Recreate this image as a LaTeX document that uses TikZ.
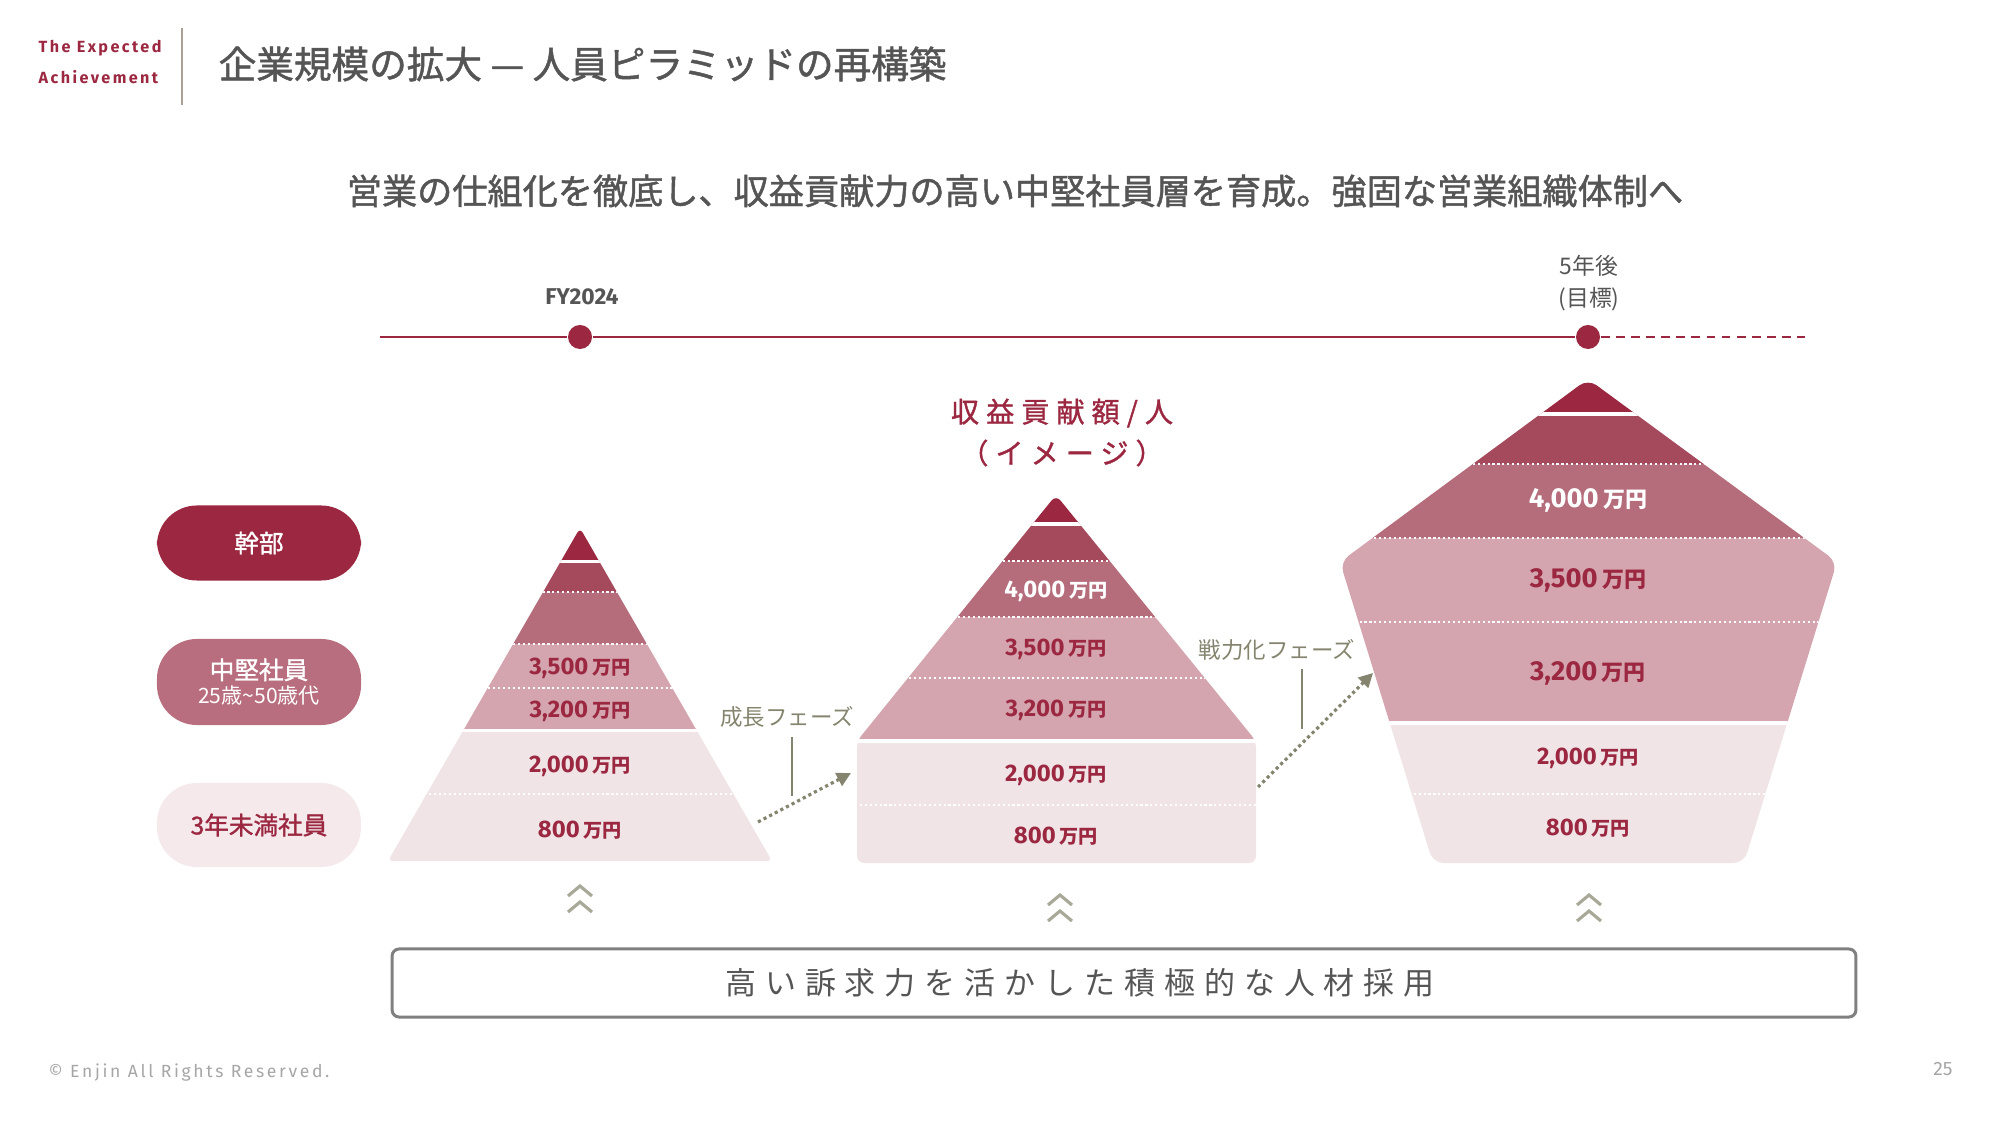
\documentclass[tikz,border=0pt]{standalone}
\usepackage{fontspec}
\setmainfont{Noto Sans CJK JP}
\newfontfamily\jpmed[FakeBold=1.3]{Noto Sans CJK JP}
\newfontfamily\numfont{Fira Sans}
\newfontfamily\tagfont[LetterSpace=15]{Fira Sans}
\newfontfamily\jpspaced[LetterSpace=25,FakeBold=1.2]{Noto Sans CJK JP}
\newfontfamily\jpwide[LetterSpace=29]{Noto Sans CJK JP}
\usetikzlibrary{arrows.meta,positioning}
\definecolor{darkred}{RGB}{155,39,64}
\definecolor{layertwo}{RGB}{165,74,92}
\definecolor{layerthree}{RGB}{181,108,123}
\definecolor{layerfour}{RGB}{212,165,175}
\definecolor{layerfive}{RGB}{240,228,231}
\definecolor{pillmid}{RGB}{184,110,126}
\definecolor{pilllow}{RGB}{245,233,236}
\definecolor{olive}{RGB}{133,132,110}
\definecolor{chevgray}{RGB}{169,169,154}
\definecolor{textgray}{RGB}{85,85,85}
\definecolor{boxgray}{RGB}{128,128,128}
\definecolor{sepgray}{RGB}{170,160,150}
\newcommand{\yenunit}{\,\scalebox{0.8}{\rmfamily\bfseries 万円}}

\begin{document}
\begin{tikzpicture}[x=0.01cm,y=-0.01cm,
  pill/.style={rounded corners=0.4cm,minimum width=2.04cm,align=center,
               inner sep=0pt,font=\jpmed\fontsize{7}{9}\selectfont},
  val/.style={font=\numfont\bfseries\fontsize{6.8}{8}\selectfont,text=darkred,inner sep=0pt},
  bigval/.style={val,font=\numfont\bfseries\fontsize{7.8}{9}\selectfont},
  gap/.style={white,line width=1.1pt},
  sep/.style={white,line width=0.6pt,dash pattern=on 0.6pt off 0.8pt},
  dot/.style={circle,fill=darkred,minimum size=0.24cm,inner sep=0pt},
  tl/.style={darkred,line width=0.7pt},
  phase/.style={olive,line width=0.9pt,dash pattern=on 0.9pt off 0.9pt,
                -{Triangle[length=4pt,width=4pt]}},
  phaselabel/.style={text=olive,font=\fontsize{6.4}{8}\selectfont,inner sep=0pt},
  chev/.style={chevgray,line width=0.9pt}]
\useasboundingbox (0,0) rectangle (2000,1125);

% header
\node[anchor=west,text=darkred,font=\tagfont\bfseries\fontsize{4.6}{6}\selectfont,inner sep=0pt]
  (tagtop) at (38,48) {The Expected};
\node[anchor=west,text=darkred,font=\tagfont\bfseries\fontsize{4.6}{6}\selectfont,inner sep=0pt]
  (tagbot) at (38,77) {Achievement};
\draw[sepgray,line width=0.4pt] (182,28) -- (182,105);
\node[anchor=west,text=textgray,font=\jpmed\fontsize{10.7}{12}\selectfont,inner sep=0pt]
  (title) at (218,64) {企業規模の拡大 — 人員ピラミッドの再構築};
\node[text=textgray,font=\jpmed\fontsize{10}{12}\selectfont,inner sep=0pt]
  (lead) at (1015,191) {営業の仕組化を徹底し、収益貢献力の高い中堅社員層を育成。強固な営業組織体制へ};

% timeline
\coordinate (tlstart) at (380,337);
\coordinate (tlend) at (1805,337);
\node[dot] (now) at (580,337) {};
\node[dot] (goal) at (1588,337) {};
\draw[tl] (tlstart) -- (now) -- (goal);
\draw[tl,dash pattern=on 2.5pt off 1.8pt] (goal) -- (tlend);
\node[text=textgray,font=\numfont\bfseries\fontsize{6.5}{8}\selectfont,inner sep=0pt]
  (nowlabel) at (582,297) {FY2024};
\node[text=textgray,font=\fontsize{6.5}{9}\selectfont,align=center,inner sep=0pt]
  (goallabel) at (1589,283) {5年後\\(目標)};

% tiers
\node[pill,fill=darkred,text=white,minimum height=0.75cm] (exec) at (259,543) {幹部};
\node[pill,fill=pillmid,text=white,minimum height=0.86cm] (mid) at (259,682)
  {中堅社員\\[-2pt]{\rmfamily\fontsize{6}{7}\selectfont 25歳\textasciitilde 50歳代}};
\node[pill,fill=pilllow,text=darkred,minimum height=0.84cm] (junior) at (259,825) {3年未満社員};

% pyramid FY2024
\begin{scope}
  \clip[rounded corners=1.5] (580,528) -- (772,861) -- (388,861) -- cycle;
  \fill[darkred] (380,520) rectangle (780,561);
  \fill[layertwo] (380,561) rectangle (780,592);
  \fill[layerthree] (380,592) rectangle (780,644);
  \fill[layerfour] (380,644) rectangle (780,730);
  \fill[layerfive] (380,730) rectangle (780,870);
  \draw[gap] (380,561.5) -- (780,561.5);
  \draw[gap] (380,730.5) -- (780,730.5);
  \foreach \yy in {592,644,688,794} \draw[sep] (380,\yy) -- (780,\yy);
\end{scope}
\node[val] (fa) at (580,668) {3,500\yenunit};
\node[val] (fb) at (580,711) {3,200\yenunit};
\node[val] (fc) at (580,766) {2,000\yenunit};
\node[val] (fd) at (580,830) {800\yenunit};

% pyramid image
\node[text=darkred,font=\jpspaced\fontsize{8}{10}\selectfont,inner sep=0pt]
  (imgtitle) at (1062,413) {収益貢献額/人};
\node[text=darkred,font=\jpspaced\fontsize{8}{10}\selectfont,inner sep=0pt]
  (imgnote) at (1062,453) {（イメージ）};
\begin{scope}
  \clip[rounded corners=2] (1056,495) -- (1256,741) -- (1256,863) -- (857,863) -- (857,741) -- cycle;
  \fill[darkred] (850,490) rectangle (1260,523);
  \fill[layertwo] (850,523) rectangle (1260,561);
  \fill[layerthree] (850,561) rectangle (1260,617);
  \fill[layerfour] (850,617) rectangle (1260,740);
  \fill[layerfive] (850,740) rectangle (1260,870);
  \draw[gap] (850,524) -- (1260,524);
  \draw[gap] (850,741) -- (1260,741);
  \foreach \yy in {561,617,678,805} \draw[sep] (850,\yy) -- (1260,\yy);
\end{scope}
\node[val,text=white] (ma) at (1056,591) {4,000\yenunit};
\node[val] (mb) at (1056,649) {3,500\yenunit};
\node[val] (mc) at (1056,710) {3,200\yenunit};
\node[val] (md) at (1056,775) {2,000\yenunit};
\node[val] (me) at (1056,836) {800\yenunit};

% pentagon 5 years
\begin{scope}
  \clip[rounded corners=3] (1588,379) -- (1837,562) -- (1744,863) -- (1433,863) -- (1340,562) -- cycle;
  \fill[darkred] (1330,370) rectangle (1850,413);
  \fill[layertwo] (1330,413) rectangle (1850,464);
  \fill[layerthree] (1330,464) rectangle (1850,538);
  \fill[layerfour] (1330,538) rectangle (1850,722);
  \fill[layerfive] (1330,722) rectangle (1850,870);
  \draw[gap] (1330,414) -- (1850,414);
  \draw[gap] (1330,723) -- (1850,723);
  \foreach \yy in {464,538,622,794} \draw[sep] (1330,\yy) -- (1850,\yy);
\end{scope}
\node[bigval,text=white] (ga) at (1588,500) {4,000\yenunit};
\node[bigval] (gb) at (1588,580) {3,500\yenunit};
\node[bigval] (gc) at (1588,673) {3,200\yenunit};
\node[val] (gd) at (1588,758) {2,000\yenunit};
\node[val] (ge) at (1588,828) {800\yenunit};

% phases
\node[phaselabel] (grow) at (787,717) {成長フェーズ};
\coordinate (growtop) at (792,737);
\coordinate (growbot) at (792,796);
\draw[olive,line width=0.3pt] (growtop) -- (growbot);
\coordinate (growfrom) at (758,822);
\coordinate (growto) at (851,773);
\draw[phase] (growfrom) -- (growto);

\node[phaselabel] (force) at (1277,650) {戦力化フェーズ};
\coordinate (forcetop) at (1302,669);
\coordinate (forcebot) at (1302,729);
\draw[olive,line width=0.3pt] (forcetop) -- (forcebot);
\coordinate (forcefrom) at (1258,787);
\coordinate (forceto) at (1373,673);
\draw[phase] (forcefrom) -- (forceto);

% chevrons
\foreach \cx/\cy in {580/886,1060/895,1589/895} {
  \draw[chev] (\cx-12,\cy+10) -- (\cx,\cy) -- (\cx+12,\cy+10);
  \draw[chev] (\cx-12,\cy+26) -- (\cx,\cy+16) -- (\cx+12,\cy+26);
}

% hiring
\node[draw=boxgray,line width=0.85pt,rounded corners=2pt,minimum width=14.63cm,
      minimum height=0.68cm,inner sep=0pt] (hirebox) at (1124,983) {};
\node[text=textgray,font=\jpwide\fontsize{8.8}{10}\selectfont,inner sep=0pt]
  (hire) at (1080,983) {高い訴求力を活かした積極的な人材採用};

% footer
\node[anchor=west,text=gray!70,font=\tagfont\fontsize{5}{6}\selectfont,inner sep=0pt]
  (copy) at (48,1073) {© Enjin All Rights Reserved.};
\node[text=gray!70,font=\numfont\fontsize{5.5}{6}\selectfont,inner sep=0pt]
  (page) at (1943,1069) {25};
\end{tikzpicture}
\end{document}
